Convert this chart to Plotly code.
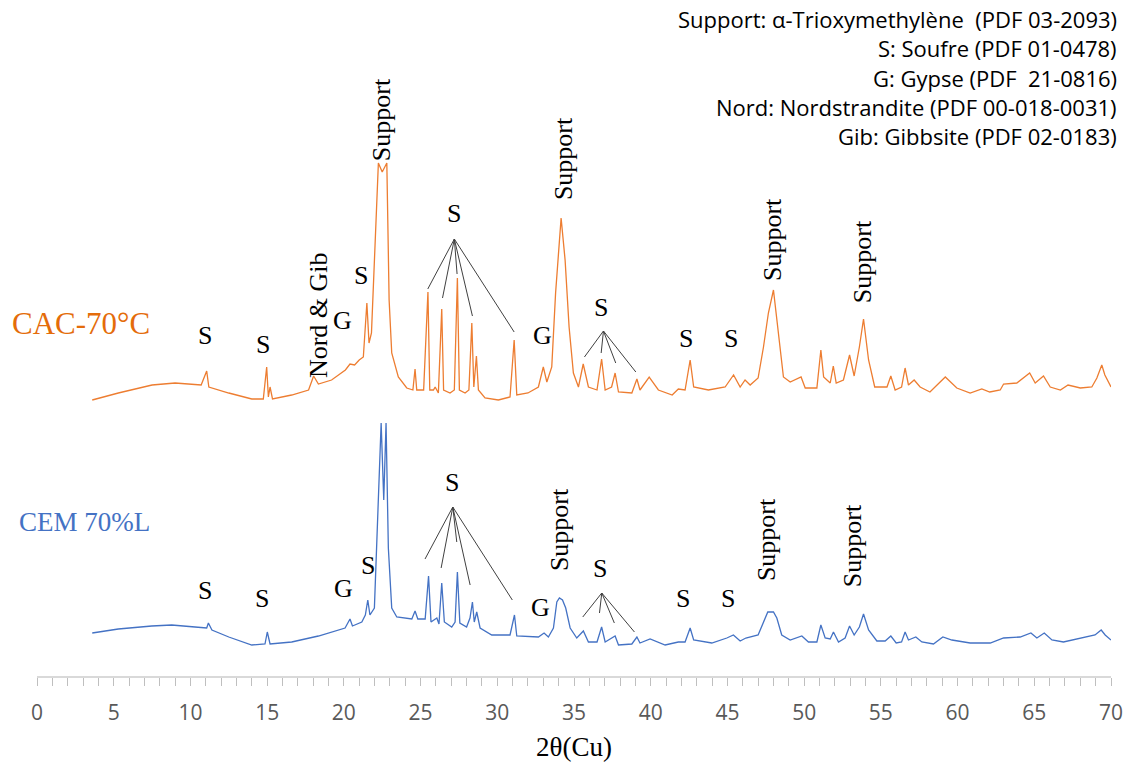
import plotly.graph_objects as go

# 2theta / intensity (a.u., CAC stacked above CEM)
tth_cac = [3.6, 5.3, 7.5, 9.0, 10.7, 11.06, 11.2, 12.5, 14.0, 14.75, 14.97, 15.08, 15.19, 15.35,
           16.6, 17.7, 18.03, 18.34, 19.2, 20.1, 20.4, 20.7, 21.0, 21.27, 21.5, 21.64, 21.8, 22.0,
           22.25, 22.5, 22.8, 22.95, 23.12, 23.55, 24.1, 24.5, 24.64, 24.75, 25.2, 25.48, 25.6,
           25.84, 25.95, 26.16, 26.38, 26.5, 26.92, 27.2, 27.4, 27.53, 27.9, 28.15, 28.34, 28.47,
           28.64, 28.77, 29.2, 30.07, 30.83, 31.1, 31.27, 32.0, 32.68, 33.0, 33.23, 33.55, 33.8,
           34.16, 34.42, 34.68, 34.96, 35.29, 35.6, 35.94, 36.5, 36.8, 37.03, 37.45, 37.68, 37.9,
           38.77, 39.1, 39.3, 39.9, 40.5, 41.4, 41.8, 42.24, 42.57, 42.8, 43.76, 44.85, 45.4,
           45.83, 46.15, 46.48, 47.0, 47.35, 47.67, 48.0, 48.33, 48.65, 49.09, 49.8, 50.07, 50.83,
           51.09, 51.27, 51.7, 51.9, 52.09, 52.56, 52.96, 53.26, 53.6, 53.87, 54.2, 54.6, 55.4,
           55.65, 55.93, 56.35, 56.58, 56.8, 57.17, 57.56, 58.2, 59.2, 59.95, 60.82, 61.58, 62.1,
           62.78, 63.0, 63.86, 64.7, 65.06, 65.6, 66.04, 66.7, 67.2, 68.0, 68.75, 69.08, 69.4,
           69.6, 70.0]
int_cac = [41, 48, 56, 58, 56, 70, 54, 48, 42, 42, 74, 44, 54, 42,
           46, 51, 65, 57, 61, 71, 77, 76, 81, 84, 138, 98, 108, 181,
           278, 269, 278, 141, 88, 64, 53, 51, 72, 51, 51, 149, 51,
           51, 54, 48, 132, 51, 48, 51, 163, 51, 48, 51, 118, 54,
           85, 51, 43, 41, 44, 101, 46, 48, 54, 74, 59, 74, 148,
           223, 181, 114, 68, 54, 77, 54, 51, 82, 51, 54, 68, 49,
           48, 62, 51, 64, 51, 46, 52, 51, 81, 54, 51, 54, 66,
           54, 61, 56, 63, 94, 128, 151, 108, 64, 59, 64, 53, 53,
           91, 64, 58, 75, 58, 61, 86, 65, 94, 122, 81, 54, 54,
           65, 51, 54, 73, 56, 61, 54, 49, 64, 53, 48, 52, 49,
           51, 57, 58, 68, 58, 65, 54, 51, 56, 53, 54, 63, 76,
           66, 54]

tth_cem = [3.6, 5.3, 7.48, 8.78, 10.3, 11.06, 11.17, 11.4, 12.5, 14.0, 14.86, 15.01, 15.19, 16.6,
           18.34, 20.08, 20.4, 20.56, 21.17, 21.4, 21.56, 21.7, 21.99, 22.2, 22.43, 22.6, 22.75,
           22.9, 23.12, 23.45, 24.43, 24.64, 24.82, 25.3, 25.52, 25.68, 26.06, 26.2, 26.38, 26.55,
           27.03, 27.25, 27.4, 27.56, 28.0, 28.22, 28.38, 28.5, 28.66, 28.88, 29.64, 30.83, 31.12,
           31.27, 32.68, 33.05, 33.33, 33.66, 33.88, 34.05, 34.25, 34.46, 34.75, 35.18, 35.61,
           35.94, 36.5, 36.8, 37.03, 37.68, 37.9, 38.77, 39.1, 39.3, 39.96, 40.94, 41.8, 42.24,
           42.57, 42.8, 43.98, 44.96, 45.39, 45.83, 46.2, 47.0, 47.35, 47.63, 48.0, 48.22, 48.54,
           49.09, 49.85, 50.28, 50.83, 51.09, 51.37, 51.7, 51.91, 52.24, 52.67, 52.96, 53.26, 53.6,
           53.87, 54.2, 54.74, 55.28, 55.65, 56.0, 56.35, 56.58, 56.8, 57.28, 57.67, 58.43, 59.04,
           59.63, 60.82, 62.13, 63.0, 64.08, 64.78, 65.17, 65.65, 66.15, 66.9, 68.2, 68.96, 69.36,
           69.62, 70.0]
int_cem = [43, 47, 50, 51, 49, 48, 53, 46, 39, 31, 32, 44, 32, 34,
           40, 48, 57, 50, 54, 61, 76, 61, 68, 161, 253, 176, 253,
           128, 68, 59, 57, 65, 57, 57, 100, 54, 58, 52, 93, 54,
           49, 54, 104, 53, 49, 58, 74, 54, 64, 48, 41, 41, 61,
           40, 39, 43, 39, 48, 74, 78, 76, 68, 48, 38, 45,
           34, 34, 49, 34, 40, 31, 32, 39, 33, 37, 31, 34, 34,
           48, 36, 33, 38, 41, 35, 38, 41, 53, 64, 64, 58, 41,
           36, 40, 34, 34, 51, 38, 37, 44, 34, 38, 50, 41, 49,
           62, 46, 35, 35, 40, 33, 34, 44, 36, 39, 34, 32, 39,
           36, 33, 33, 38, 39, 43, 38, 43, 36, 34, 38, 41, 46,
           41, 36]
cac_offset = 235

x_ticks = [0, 5, 10, 15, 20, 25, 30, 35, 40, 45, 50, 55, 60, 65, 70]

# peak labels: (text, 2theta, height, rotated)
labels_cac = [("S", 10.95, 341, False), ("S", 14.73, 332, False), ("Nord & Gib", 18.32, 361, True),
              ("G", 19.88, 356, False), ("S", 21.12, 401, False), ("Support", 22.43, 556, True),
              ("S", 27.18, 463, False), ("G", 32.92, 341, False), ("Support", 34.29, 517, True),
              ("S", 36.77, 369, False), ("S", 42.31, 338, False), ("S", 45.24, 338, False),
              ("Support", 47.91, 436, True), ("Support", 53.78, 414, True)]
labels_cem = [("S", 10.95, 86, False), ("S", 14.67, 78, False), ("G", 19.95, 88, False),
              ("S", 21.58, 111, False), ("S", 27.05, 194, False), ("G", 32.79, 69, False),
              ("Support", 34.03, 146, True), ("S", 36.7, 108, False), ("S", 42.11, 78, False),
              ("S", 45.05, 78, False), ("Support", 47.52, 136, True), ("Support", 53.13, 130, True)]

# leader lines: apex then line ends
fans = [((27.2, 437), [(25.47, 387), (26.43, 378), (27.38, 402), (28.38, 360), (31.1, 344)]),
        ((36.92, 345), [(35.68, 319), (36.77, 323), (37.72, 313), (39.03, 304)]),
        ((27.1, 169), [(25.29, 117), (26.34, 108), (27.36, 134), (28.23, 91), (30.98, 76)]),
        ((36.81, 83), [(35.57, 59), (36.66, 63), (37.63, 53), (38.94, 44)])]

legend_lines = ["Support: α-Trioxymethylène&nbsp;&nbsp;(PDF 03-2093)",
                "S: Soufre (PDF 01-0478)",
                "G: Gypse (PDF&nbsp;&nbsp;21-0816)",
                "Nord: Nordstrandite (PDF 00-018-0031)",
                "Gib: Gibbsite (PDF 02-0183)"]

orange = "#ED7D31"
blue = "#4472C4"
serif = "Liberation Serif, Times New Roman, serif"
sans = "Open Sans, Lato, sans-serif"

fig = go.Figure()
fig.add_trace(go.Scatter(x=tth_cac, y=[v + cac_offset for v in int_cac], mode="lines",
                         line=dict(color=orange, width=1.3), name="CAC-70°C"))
fig.add_trace(go.Scatter(x=tth_cem, y=int_cem, mode="lines",
                         line=dict(color=blue, width=1.3), name="CEM 70%L"))

anns = []
for txt, xv, yv, rot in labels_cac + labels_cem:
    anns.append(dict(x=xv, y=yv, text=txt, showarrow=False, textangle=-90 if rot else 0,
                     font=dict(family=serif, size=26, color="black")))

# series names sit left of the axis start, so place them in paper x
anns.append(dict(x=-0.025, xref="paper", y=676 - 323, text="CAC-70°C", showarrow=False,
                 xanchor="left", font=dict(family=serif, size=31, color="#E46C0A")))
anns.append(dict(x=-0.019, xref="paper", y=676 - 522, text="CEM 70%L", showarrow=False,
                 xanchor="left", font=dict(family=serif, size=27, color=blue)))

for i, line in enumerate(legend_lines):
    anns.append(dict(x=1.0065, xref="paper", y=657 - i * 29.3, text=line, showarrow=False,
                     xanchor="right", borderpad=0, font=dict(family=sans, size=22, color="black")))

shapes = []
for (ax, ay), ends in fans:
    for ex, ey in ends:
        shapes.append(dict(type="line", x0=ax, y0=ay, x1=ex, y1=ey,
                           line=dict(color="#404040", width=1)))

fig.update_layout(
    width=1133, height=771,
    margin=dict(l=37, r=22, t=0, b=95),
    paper_bgcolor="white", plot_bgcolor="white",
    showlegend=False,
    annotations=anns,
    shapes=shapes,
    xaxis=dict(range=[0, 70], tickvals=x_ticks, ticks="outside", ticklen=8, tickcolor="#bfbfbf",
               ticklabelstandoff=9,
               showline=True, linecolor="#d9d9d9", linewidth=1.5, showgrid=False, zeroline=False,
               tickfont=dict(family=sans, size=21, color="#595959"),
               minor=dict(dtick=1, ticks="outside", ticklen=8, tickcolor="#bfbfbf"),
               title=dict(text="2θ(Cu)", font=dict(family=serif, size=27, color="black"), standoff=12)),
    yaxis=dict(range=[0, 676], visible=False),
)

# drop the default body margin so the figure fills the window from its corner
fig.write_html("out.html", config={"displayModeBar": False},
               post_script="document.body.style.margin='0px';")
